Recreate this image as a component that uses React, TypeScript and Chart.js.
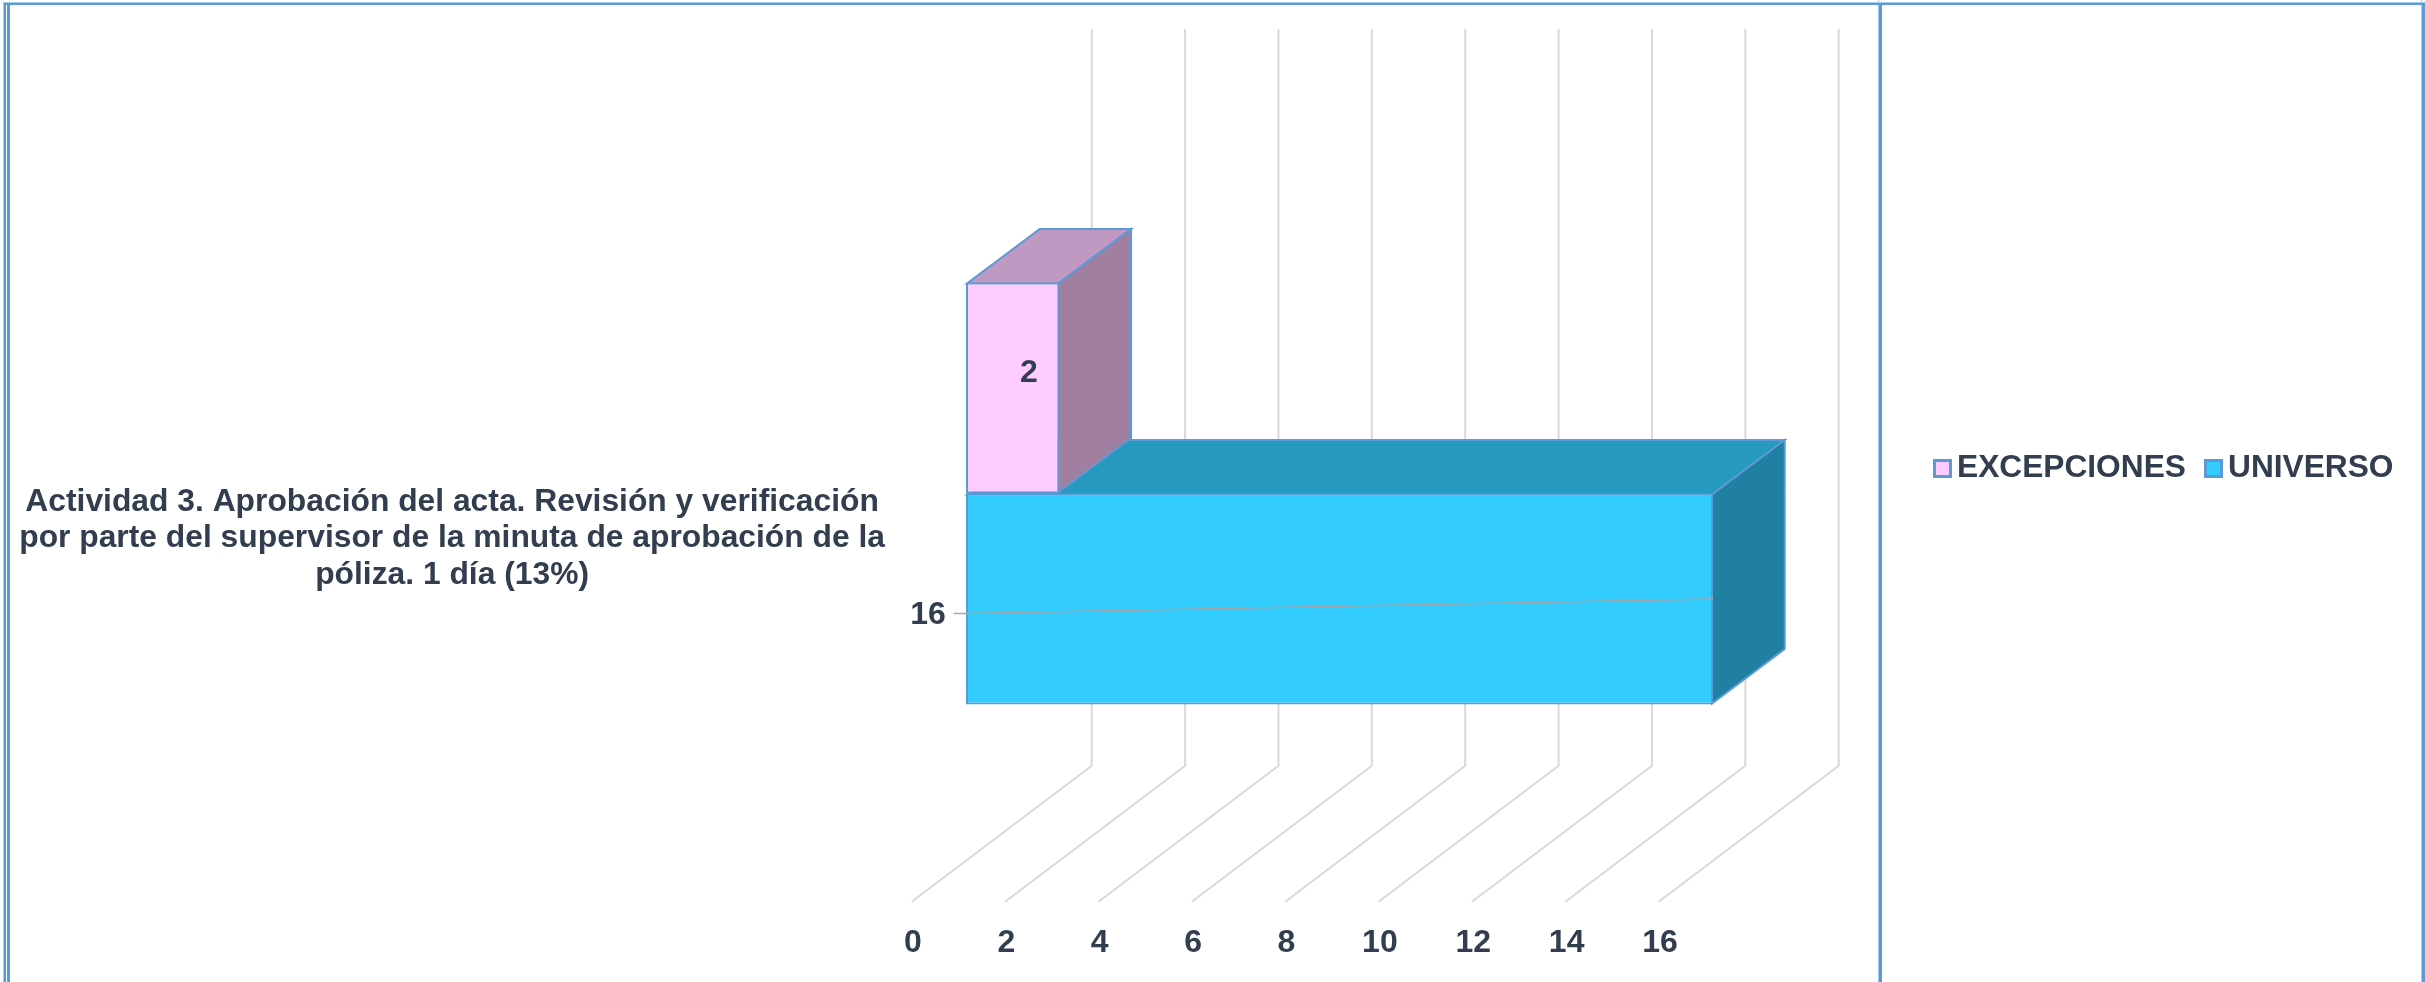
import React, { useEffect, useRef } from "react";
import { Chart, registerables } from "chart.js";

Chart.register(...registerables);

const categories = [[
  "Actividad 3. Aprobación del acta. Revisión y verificación",
  "por parte del supervisor de la minuta de aprobación de la",
  "póliza. 1 día (13%)",
]];
const seriesNames = ["EXCEPCIONES", "UNIVERSO"];
const excepciones = [2];
const universo = [16];
const axisMin = 0;
const axisMax = 16;
const axisStep = 2;

const FONT = "'Liberation Sans', Arial, sans-serif";
const TEXT = "#323E4F";
const EDGE = "#5B9BD5";
const GRID = "#D9D9D9";
const FILLS = ["#FFCCFF", "#33CCFF"];
const TOPS = ["#BF99C2", "#2699BF"];
const SIDES = ["#A17FA0", "#2080A1"];
const DX = 72.7;
const DY = 54.5;

const framePlugin = {
  id: "frame",
  beforeDraw(chart: any) {
    const c = chart.ctx;
    c.save();
    c.fillStyle = "#fff";
    c.fillRect(0, 0, 2425, 982);
    c.fillStyle = "#A9CBEB";
    c.fillRect(3, 2, 2422, 1);
    c.fillRect(3, 2, 1, 980);
    c.fillRect(1878, 0, 1, 982);
    c.fillRect(2421, 0, 1, 982);
    c.fillStyle = EDGE;
    c.fillRect(4, 3, 2421, 2);
    c.fillRect(4, 3, 2, 979);
    c.fillRect(7, 3, 3, 979);
    c.fillRect(1879, 3, 3, 979);
    c.fillRect(2422, 3, 3, 979);
    c.restore();
  },
};

function poly(c: CanvasRenderingContext2D, pts: number[][], fill: string) {
  c.beginPath();
  pts.forEach((p, i) => (i ? c.lineTo(p[0], p[1]) : c.moveTo(p[0], p[1])));
  c.closePath();
  c.fillStyle = fill;
  c.fill();
  c.strokeStyle = EDGE;
  c.lineWidth = 2;
  c.stroke();
}

const depthPlugin = {
  id: "depth",
  beforeDatasetsDraw(chart: any) {
    const c = chart.ctx;
    const xs = chart.scales.x;
    c.save();
    c.strokeStyle = GRID;
    c.lineWidth = 2;
    xs.ticks.forEach((_: any, i: number) => {
      const x = xs.getPixelForTick(i);
      c.beginPath();
      c.moveTo(x + 125.7, 29);
      c.lineTo(x + 125.7, 765.7);
      c.lineTo(x - 54.3, 901.7);
      c.stroke();
    });
    [1, 0].forEach((d) => {
      const b = chart.getDatasetMeta(d).data[0];
      const top = b.y - b.height / 2 + 1;
      const bot = b.y + b.height / 2 - 1;
      const r = b.x - 1;
      const l = b.base + 1;
      poly(c, [[l, top], [r, top], [r + DX, top - DY], [l + DX, top - DY]], TOPS[d]);
      poly(c, [[r, top], [r + DX, top - DY], [r + DX, bot - DY], [r, bot]], SIDES[d]);
    });
    c.restore();
  },
  afterDatasetsDraw(chart: any) {
    const c = chart.ctx;
    c.save();
    const pink = chart.getDatasetMeta(0).data[0];
    const blue = chart.getDatasetMeta(1).data[0];
    c.strokeStyle = "#A6A6A6";
    c.lineWidth = 1.5;
    c.beginPath();
    c.moveTo(blue.base - 12, blue.y + 14.5);
    c.lineTo(blue.base, blue.y + 14.5);
    c.lineTo(blue.x, blue.y);
    c.stroke();
    c.fillStyle = TEXT;
    c.font = `bold 32px ${FONT}`;
    c.textAlign = "center";
    c.textBaseline = "middle";
    c.fillText(String(excepciones[0]), pink.base + 63, pink.y - 14.5);
    c.fillText(String(universo[0]), blue.base - 38, blue.y + 16);

    const items = [
      { box: 1933, text: 1957 },
      { box: 2204, text: 2228 },
    ];
    items.forEach((it, i) => {
      c.fillStyle = FILLS[i];
      c.strokeStyle = EDGE;
      c.lineWidth = 3;
      c.fillRect(it.box, 459, 19, 19);
      c.strokeRect(it.box + 1.5, 460.5, 16, 16);
      c.fillStyle = TEXT;
      c.font = `bold 31.7px ${FONT}`;
      c.textAlign = "left";
      c.fillText(chart.data.datasets[i].label, it.text, 468);
    });
    c.restore();
  },
};

export default function App() {
  const ref = useRef<HTMLCanvasElement>(null);
  useEffect(() => {
    document.body.style.margin = "0";
    const chart = new Chart(ref.current as HTMLCanvasElement, {
      type: "bar",
      plugins: [framePlugin, depthPlugin],
      data: {
        labels: categories as any,
        datasets: [
          {
            label: seriesNames[0],
            data: excepciones,
            backgroundColor: FILLS[0],
            borderColor: EDGE,
            borderWidth: 2,
            borderSkipped: false,
          },
          {
            label: seriesNames[1],
            data: universo,
            backgroundColor: FILLS[1],
            borderColor: EDGE,
            borderWidth: 2,
            borderSkipped: false,
          },
        ],
      },
      options: {
        indexAxis: "y",
        responsive: false,
        animation: false,
        layout: { padding: { left: 0, right: 712, top: 82, bottom: 0 } },
        datasets: { bar: { categoryPercentage: 422 / 823, barPercentage: 1 } },
        plugins: {
          legend: { display: false },
          title: { display: false },
          tooltip: { enabled: false },
        },
        scales: {
          x: {
            min: axisMin,
            max: axisMax,
            grid: { display: false },
            border: { display: false },
            afterFit(s: any) {
              s.height = 77;
              s.paddingLeft = 0;
              s.paddingRight = 0;
            },
            ticks: {
              stepSize: axisStep,
              autoSkip: false,
              maxRotation: 0,
              labelOffset: -53,
              padding: 11,
              color: TEXT,
              font: { family: FONT, size: 32, weight: "bold" },
            },
          },
          y: {
            grid: { display: false },
            border: { display: false },
            afterFit(s: any) {
              s.width = 966;
              s.paddingTop = 0;
              s.paddingBottom = 0;
            },
            ticks: {
              crossAlign: "center",
              labelOffset: 45,
              padding: 73,
              color: TEXT,
              font: { family: FONT, size: 31.8, weight: "bold", lineHeight: "36.5px" },
            },
          },
        },
      } as any,
    });
    return () => chart.destroy();
  }, []);
  return (
    <canvas
      ref={ref}
      width={2425}
      height={982}
      style={{ display: "block", position: "fixed", left: 0, top: 0, width: 2425, height: 982 }}
    />
  );
}
